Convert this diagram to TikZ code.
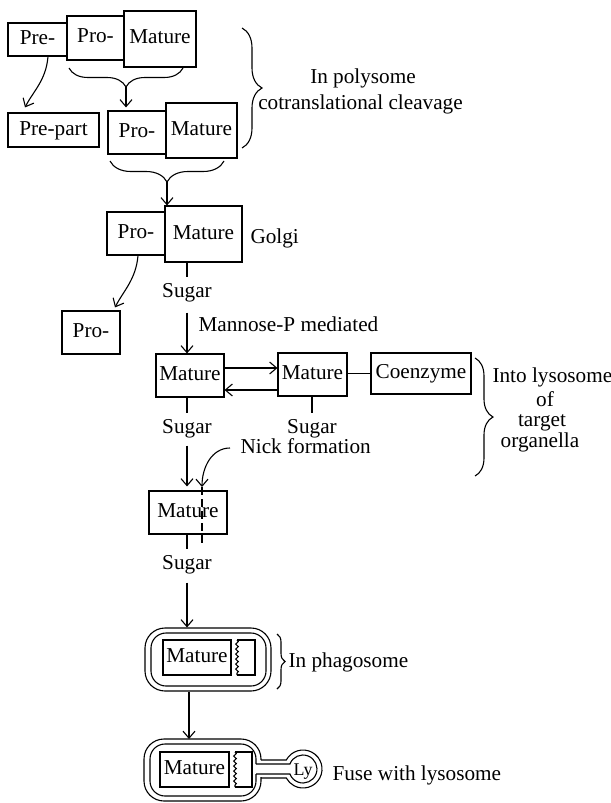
\documentclass[tikz,border=0pt]{standalone}
\usepackage{fontspec}
\setmainfont{Liberation Serif}
\usetikzlibrary{decorations.pathreplacing,decorations.pathmorphing,arrows.meta,calc}
\newcommand\dfont{\fontsize{21.3}{24}\selectfont}
\begin{document}
\begin{tikzpicture}[x=1bp,y=-1bp,line width=1.1bp,
  box/.style={draw, rectangle, inner sep=0pt, font=\dfont, text height=14bp, text depth=4bp},
  lbl/.style={inner sep=0pt, font=\dfont, text height=14bp, text depth=4bp},
  arr/.style={-{Straight Barb[length=7bp,width=12bp]}},
  bracedeco/.style={decorate, decoration={brace, amplitude=#1}},
  mbracedeco/.style={decorate, decoration={brace, mirror, amplitude=#1}},
  wavy/.style={decorate, decoration={snake, amplitude=1.3bp, segment length=5bp}}
]
\useasboundingbox (0,0) rectangle (611,803);

% top row
\node[box, minimum width=59bp, minimum height=33bp] (pre) at (37.5,39.5) {Pre-};
\node[box, minimum width=57bp, minimum height=44bp] (pro1) at (95.5,38) {Pro-};
\node[box, minimum width=72bp, minimum height=56bp] (mat1) at (160,39) {Mature};

% second row
\node[box, minimum width=91bp, minimum height=34bp] (prepart) at (53.5,130) {Pre-part};
\node[box, minimum width=58bp, minimum height=43bp] (pro2) at (137,132.5) {Pro-};
\node[box, minimum width=71bp, minimum height=55bp] (mat2) at (201.5,130.5) {Mature};

% braces top
\draw[mbracedeco=19bp] (69,68) -- (183,68);
\coordinate (b1tip) at (126,87);
\draw[arr] (b1tip) -- ([yshift=3bp]b1tip |- pro2.north);
\draw[mbracedeco=21bp] (110,161) -- (224,161);
\coordinate (b2tip) at (167,182);

\draw[arr] ([xshift=10.5bp]pre.south) .. controls +(-2,24) and +(8,-16) .. ([xshift=-28.5bp,yshift=5bp]prepart.north);

\draw[bracedeco=20bp] (242,28) -- (242,148);
\node[lbl] (poly1) at (363,78) {In polysome};
\node[lbl] (poly2) at (360.5,104) {cotranslational cleavage};

% Golgi row
\node[box, minimum width=58bp, minimum height=43bp] (pro3) at (136,233.5) {Pro-};
\node[box, minimum width=77bp, minimum height=56bp] (mat3) at (203.5,234) {Mature};
\draw[arr] (b2tip) -- (b2tip |- mat3.north);
\node[lbl, anchor=west] (golgi) at (250,238) {Golgi};

\node[box, minimum width=58bp, minimum height=43bp] (proS) at (91,332.5) {Pro-};
\draw[arr] ([xshift=2bp]pro3.south) .. controls +(-2,24) and +(8,-16) .. ([xshift=24bp,yshift=3bp]proS.north);

\node[lbl] (sg1) at (187,292) {Sugar};
\draw (mat3.south -| sg1) -- ([yshift=5bp]sg1.north);
\node[lbl, anchor=west] (mann) at (198,326) {Mannose-P mediated};

% lysosome row
\node[box, minimum width=68bp, minimum height=43bp] (matA) at (190,375.5) {Mature};
\node[box, minimum width=69bp, minimum height=43bp] (matB) at (312.5,374.5) {Mature};
\node[box, minimum width=100bp, minimum height=41bp] (coenz) at (421,373.5) {Coenzyme};
\draw[arr] ([yshift=-11bp]sg1.south) -- (matA.north -| sg1);

\draw[arr] ([yshift=7.5bp]matA.east) -- ([yshift=7.5bp]matA.east -| matB.west);
\draw[arr] ([yshift=-14.5bp]matA.east -| matB.west) -- ([yshift=-14.5bp]matA.east);
\draw (coenz.west -| matB.east) -- (coenz.west);

\node[lbl] (sg2) at (187,428) {Sugar};
\draw (matA.south -| sg2) -- ([yshift=5bp]sg2.north);
\node[lbl] (sg3) at (312,428) {Sugar};
\draw (matB.south -| sg3) -- ([yshift=5bp]sg3.north);

\draw[bracedeco=18bp] (475,358) -- (475,476);
\node[lbl, anchor=west] (into) at (492,377) {Into lysosome};
\node[lbl, text height=12bp, text depth=0pt] (of) at (545,400) {of};
\node[lbl, text height=12bp, text depth=4bp] (target) at (542,422) {target};
\node[lbl] (organ) at (540,442) {organella};

\node[lbl, anchor=west] (nick) at (240,448) {Nick formation};

% nick row
\node[box, minimum width=78bp, minimum height=43bp] (matC) at (188,512.5) {Mature};
\draw[arr] ([yshift=-8bp]sg2.south) -- ([yshift=4bp]matC.north -| sg2);
\coordinate (nickend) at (202,487);
\coordinate (dashend) at (202,543);
\draw[arr] ([xshift=-10bp]nick.west) .. controls +(-18,0) and +(0,-20) .. (nickend);
\draw[dash pattern=on 8bp off 4bp] (nickend) -- (dashend);

\node[lbl] (sg4) at (187,564) {Sugar};
\draw (matC.south -| sg4) -- ([yshift=5bp]sg4.north);

% phagosome
\node[draw, rounded corners=20bp, minimum width=126bp, minimum height=63bp, inner sep=0pt] (ph1) at (208,659.5) {};
\node[draw, rounded corners=15bp, minimum width=115bp, minimum height=53bp, inner sep=0pt] (ph1in) at (208.5,659.5) {};
\node[box, minimum width=68bp, minimum height=35bp] (matP) at (197,657.5) {Mature};
\draw (237,640) -- (255,640) -- (255,675) -- (237,675);
\draw[wavy] (237,640) -- (237,675);
\draw[arr] ([yshift=-9bp]sg4.south) -- (ph1.north -| sg4);
\draw[bracedeco=8bp] (277,634) -- (277,689);
\node[lbl, anchor=west] (inph) at (288,662) {In phagosome};

% fuse
\coordinate (fuseTop) at (189,739);
\draw[arr] (ph1.south -| fuseTop) -- (fuseTop);
\draw[rounded corners=20bp] (261,760) -- (261,739) -- (144,739) -- (144,801) -- (261,801) -- (261,777);
\draw (261,760) -- (286.3,760) arc[start angle=151.7, end angle=-151.7, radius=19bp] -- (261,778);
\draw[rounded corners=15bp] (256,764) -- (256,744) -- (150,744) -- (150,796) -- (256,796) -- (256,774);
\draw (256,764) -- (289.9,764) arc[start angle=159.1, end angle=-159.1, radius=14bp] -- (256,774);
\node[box, minimum width=69bp, minimum height=35bp] (matF) at (194.5,769.5) {Mature};
\draw (235,752) -- (252,752) -- (252,787) -- (235,787);
\draw[wavy] (235,752) -- (235,787);
\node[inner sep=0pt, font=\fontsize{18}{20}\selectfont, text height=12bp, text depth=4bp] (ly) at (303,771) {Ly};
\node[lbl, anchor=west] (fuse) at (332,775) {Fuse with lysosome};
\end{tikzpicture}
\end{document}
